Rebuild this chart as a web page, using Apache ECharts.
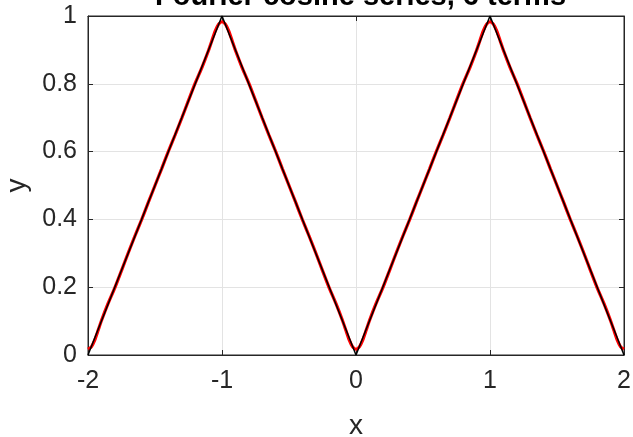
<!DOCTYPE html>
<html>
<head>
<meta charset="utf-8">
<script src="https://cdn.jsdelivr.net/npm/echarts@6/dist/echarts.min.js"></script>
<style>html,body{margin:0;padding:0;background:#fff}#c{width:633px;height:437px}</style>
</head>
<body>
<div id="c"></div>
<script>
var titleText = 'Fourier cosine series, 6 terms';
var xTicks = [-2, -1, 0, 1, 2];
var yTicks = [0, 0.2, 0.4, 0.6, 0.8, 1];

// exact triangle wave (black)
var exactX = [-2, -1, 0, 1, 2];
var exactY = [0, 1, 0, 1, 0];

// Fourier approximation (red)
var approxX = [
  -2,-1.975,-1.95,-1.925,-1.9,-1.85,-1.8,-1.75,-1.7,-1.65,-1.6,-1.55,-1.5,-1.45,-1.4,-1.35,-1.3,-1.25,-1.2,-1.15,-1.1,-1.075,-1.05,-1.025,-1,
  -0.975,-0.95,-0.925,-0.9,-0.85,-0.8,-0.75,-0.7,-0.65,-0.6,-0.55,-0.5,-0.45,-0.4,-0.35,-0.3,-0.25,-0.2,-0.15,-0.1,-0.075,-0.05,-0.025,0,
  0.025,0.05,0.075,0.1,0.15,0.2,0.25,0.3,0.35,0.4,0.45,0.5,0.55,0.6,0.65,0.7,0.75,0.8,0.85,0.9,0.925,0.95,0.975,1,
  1.025,1.05,1.075,1.1,1.15,1.2,1.25,1.3,1.35,1.4,1.45,1.5,1.55,1.6,1.65,1.7,1.75,1.8,1.85,1.9,1.925,1.95,1.975,2];
var approxY = [
  0.017,0.024,0.044,0.072,0.101,0.152,0.198,0.249,0.301,0.351,0.399,0.450,0.500,0.550,0.601,0.649,0.699,0.751,0.802,0.848,0.899,0.928,0.956,0.976,0.983,
  0.976,0.956,0.928,0.899,0.848,0.802,0.751,0.699,0.649,0.601,0.550,0.500,0.450,0.399,0.351,0.301,0.249,0.198,0.152,0.101,0.072,0.044,0.024,0.017,
  0.024,0.044,0.072,0.101,0.152,0.198,0.249,0.301,0.351,0.399,0.450,0.500,0.550,0.601,0.649,0.699,0.751,0.802,0.848,0.899,0.928,0.956,0.976,0.983,
  0.976,0.956,0.928,0.899,0.848,0.802,0.751,0.699,0.649,0.601,0.550,0.500,0.450,0.399,0.351,0.301,0.249,0.198,0.152,0.101,0.072,0.044,0.024,0.017];

function pairs(xs, ys) { return xs.map(function (x, i) { return [x, ys[i]]; }); }

var font = 'Liberation Sans, Arial, Helvetica, sans-serif';
var axisColor = '#262626';
var tickStyle = { show: true, inside: true, length: 5, lineStyle: { color: axisColor } };
var lineSt = { show: true, onZero: false, lineStyle: { color: axisColor, width: 1 } };
var chart = echarts.init(document.getElementById('c'), null, { renderer: 'canvas' });
chart.setOption({
  animation: false,
  backgroundColor: '#fff',
  title: {
    text: titleText, left: 150, top: -23,
    textStyle: { fontFamily: font, fontSize: 29, fontWeight: 'bold', color: '#000' }
  },
  grid: { left: 88, right: 9, top: 16, bottom: 82, show: true, borderColor: axisColor, borderWidth: 1,
    backgroundColor: '#fff', containLabel: false, outerBoundsMode: 'none' },
  xAxis: [{
    type: 'value', min: xTicks[0], max: xTicks[xTicks.length - 1], interval: 1,
    name: 'x', nameLocation: 'middle', nameGap: 57,
    nameTextStyle: { fontFamily: font, fontSize: 28, color: axisColor },
    axisLine: lineSt, axisTick: tickStyle,
    axisLabel: { margin: 14, fontFamily: font, fontSize: 25, color: axisColor },
    splitLine: { show: true, lineStyle: { color: '#e3e3e3', width: 1 } }
  }, {
    type: 'value', position: 'top', min: xTicks[0], max: xTicks[xTicks.length - 1], interval: 1,
    axisLine: lineSt, axisTick: tickStyle,
    axisLabel: { show: false }, splitLine: { show: false }
  }],
  yAxis: [{
    type: 'value', min: yTicks[0], max: yTicks[yTicks.length - 1], interval: 0.2,
    name: 'y', nameLocation: 'middle', nameGap: 53,
    nameTextStyle: { fontFamily: font, fontSize: 28, color: axisColor },
    axisLine: lineSt, axisTick: tickStyle,
    axisLabel: { margin: 11, fontFamily: font, fontSize: 25, color: axisColor,
      formatter: function (v) { return String(Math.round(v * 10) / 10); } },
    splitLine: { show: true, lineStyle: { color: '#e3e3e3', width: 1 } }
  }, {
    type: 'value', position: 'right', min: yTicks[0], max: yTicks[yTicks.length - 1], interval: 0.2,
    axisLine: lineSt, axisTick: tickStyle,
    axisLabel: { show: false }, splitLine: { show: false }
  }],
  series: [{
    type: 'line', data: pairs(approxX, approxY), showSymbol: false, smooth: 0.2,
    lineStyle: { color: '#ff0000', width: 3.2 }, z: 2, clip: false
  }, {
    type: 'line', data: pairs(exactX, exactY), showSymbol: false,
    lineStyle: { color: '#000000', width: 1.5 }, z: 3, clip: false
  }]
});
</script>
</body>
</html>
